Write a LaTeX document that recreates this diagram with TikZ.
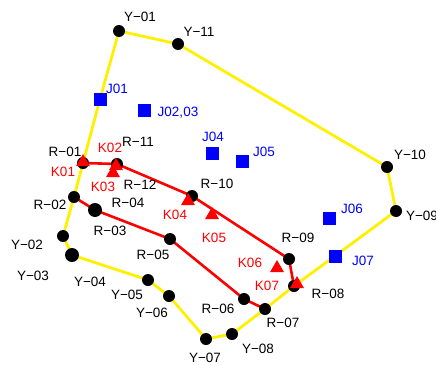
\documentclass[tikz,border=0pt]{standalone}
\usepackage{fontspec}
\setmainfont{Liberation Sans}
\usetikzlibrary{shapes.geometric}
\definecolor{yl}{RGB}{255,240,0}
\definecolor{rd}{RGB}{255,0,0}
\definecolor{bl}{RGB}{0,0,255}
\tikzset{
  yline/.style={draw=yl,line width=2.8pt,line join=round},
  rline/.style={draw=rd,line width=2.6pt,line join=round},
  dot/.style={circle,fill=black,inner sep=0pt,minimum size=12pt},
  bigdot/.style={circle,fill=black,inner sep=0pt,minimum size=14pt},
  tri/.style={regular polygon,regular polygon sides=3,fill=rd,inner sep=0pt,minimum size=16pt},
  sq/.style={rectangle,fill=bl,inner sep=0pt,minimum size=13pt},
  lb/.style={font=\fontsize{13.5}{13.5}\selectfont,text=black,inner sep=0pt},
  lr/.style={lb,text=rd},
  lbl/.style={lb,text=bl}
}
\begin{document}
\begin{tikzpicture}[x=1pt,y=-1pt]
\useasboundingbox (0,0) rectangle (436,364);
% coordinates
\coordinate (Y01) at (119,31);
\coordinate (Y11) at (178,44);
\coordinate (Y10) at (387,167);
\coordinate (Y09) at (396,211);
\coordinate (J07) at (335,256);
\coordinate (R08) at (294,286);
\coordinate (R07) at (265,309);
\coordinate (Y08) at (232,334);
\coordinate (Y07) at (206,339);
\coordinate (Y06) at (169,296);
\coordinate (Y05) at (148,280);
\coordinate (Y03) at (72,255);
\coordinate (Y02) at (63,236);
\coordinate (R02) at (74,197);
\coordinate (R01) at (83,163);
\coordinate (J01) at (100,99);
\coordinate (R11) at (117,164);
\coordinate (R10) at (192,196);
\coordinate (R09) at (289,259);
\coordinate (R04) at (95,210);
\coordinate (R05) at (170,239);
\coordinate (R06) at (244,299);
% yellow boundary
\draw[yline] (Y01) -- (Y11) -- (Y10) -- (Y09) -- (J07) -- (R08) -- (R07) -- (Y08) -- (Y07) -- (Y06) -- (Y05) -- (Y03) -- (Y02) -- (R02) -- (R01) -- (J01) -- cycle;
% red lines
\draw[rline] (R01) -- (R11) -- (R10) -- (R09) -- (R08);
\draw[rline] (R02) -- (R04) -- (R05) -- (R06) -- (R07);
% black dots
\foreach \p in {Y01,Y11,Y10,Y09,R08,R07,Y08,Y07,Y06,Y05,Y02,R02,R01,R11,R10,R09,R05,R06}
  \node[dot] (d\p) at (\p) {};
\node[bigdot] (dY03) at (Y03) {};
\node[bigdot] (dR04) at (R04) {};
% triangles
\node[tri] (K01) at (83,162) {};
\node[tri] (K02) at (116,166) {};
\node[tri] (K03) at (113,173) {};
\node[tri] (K04) at (188,201) {};
\node[tri] (K05) at (212,215) {};
\node[tri] (K06) at (277,268) {};
\node[tri] (K07) at (297,284) {};
% squares
\node[sq] (sJ01) at (J01) {};
\node[sq] (sJ0203) at (144,110) {};
\node[sq] (sJ04) at (212,153) {};
\node[sq] (sJ05) at (242,161) {};
\node[sq] (sJ06) at (329,218) {};
\node[sq] (sJ07) at (J07) {};
% labels black
\node[lb] (tY01) at (140,17) {Y−01};
\node[lb] (tY11) at (199,32) {Y−11};
\node[lb] (tY10) at (410,155) {Y−10};
\node[lb] (tY09) at (422,216) {Y−09};
\node[lb] (tR08) at (328,294) {R−08};
\node[lb] (tR07) at (283,323) {R−07};
\node[lb] (tY08) at (258,349) {Y−08};
\node[lb] (tY07) at (205,358) {Y−07};
\node[lb] (tR06) at (218,309) {R−06};
\node[lb] (tY06) at (152,313) {Y−06};
\node[lb] (tY05) at (127,295) {Y−05};
\node[lb] (tY04) at (90,282) {Y−04};
\node[lb] (tY03) at (33,276) {Y−03};
\node[lb] (tY02) at (27,245) {Y−02};
\node[lb] (tR02) at (50,205) {R−02};
\node[lb] (tR03) at (110,231) {R−03};
\node[lb] (tR04) at (128,203) {R−04};
\node[lb] (tR05) at (153,255) {R−05};
\node[lb] (tR01) at (65,152) {R−01};
\node[lb] (tR11) at (138,142) {R−11};
\node[lb] (tR12) at (140,185) {R−12};
\node[lb] (tR10) at (217,184) {R−10};
\node[lb] (tR09) at (298,238) {R−09};
% labels red
\node[lr] (tK01) at (63,172) {K01};
\node[lr] (tK02) at (110,148) {K02};
\node[lr] (tK03) at (103,187) {K03};
\node[lr] (tK04) at (175,215) {K04};
\node[lr] (tK05) at (214,238) {K05};
\node[lr] (tK06) at (250,263) {K06};
\node[lr] (tK07) at (267,286) {K07};
% labels blue
\node[lbl] (tJ01) at (117,89) {J01};
\node[lbl] (tJ0203) at (178,113) {J02,03};
\node[lbl] (tJ04) at (213,137) {J04};
\node[lbl] (tJ05) at (264,152) {J05};
\node[lbl] (tJ06) at (352,209) {J06};
\node[lbl] (tJ07) at (363,261) {J07};
\end{tikzpicture}
\end{document}
